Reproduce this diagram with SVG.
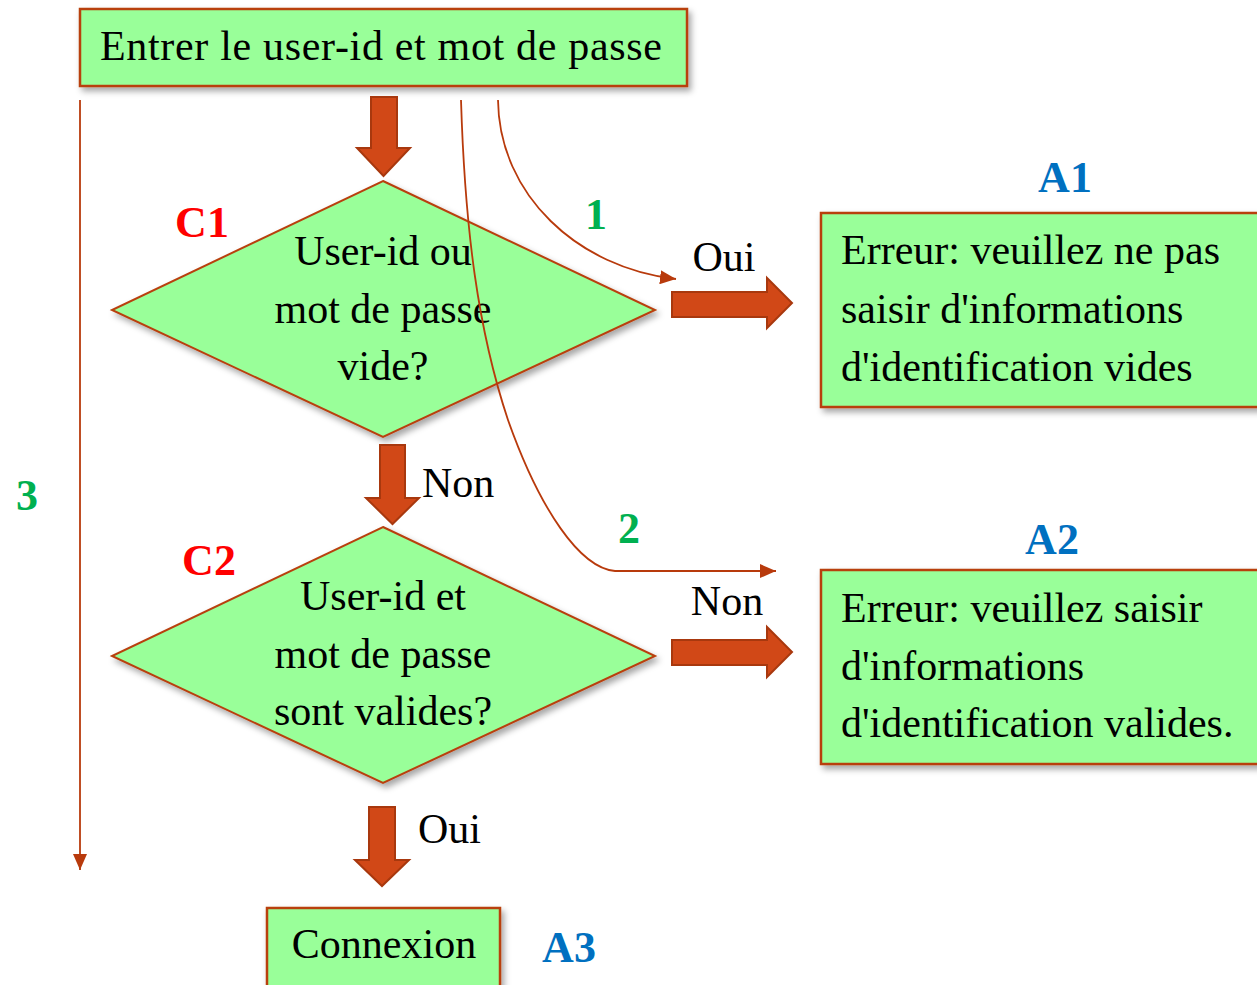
<svg xmlns="http://www.w3.org/2000/svg" width="1257" height="985" viewBox="0 0 1257 985">
<style>
.box{fill:#99FF99;stroke:#B8400F;stroke-width:2.5}
.dia{fill:#99FF99;stroke:#B8400F;stroke-width:2}
.txt{font-family:"Liberation Serif","Times New Roman",serif;font-size:42px;fill:#000}
.blk{fill:#D14817;stroke:#A8380E;stroke-width:2;stroke-linejoin:miter}
.con{fill:none;stroke:#B83A0C;stroke-width:1.8}
.num{font-family:"Liberation Serif","Times New Roman",serif;font-size:44px;font-weight:bold;fill:#00B050}
.cl{font-family:"Liberation Serif","Times New Roman",serif;font-size:44px;font-weight:bold;fill:#FF0000}
.al{font-family:"Liberation Serif","Times New Roman",serif;font-size:44px;font-weight:bold;fill:#0070C0}
</style>
<defs>
<filter id="sh" x="-10%" y="-10%" width="130%" height="130%">
<feDropShadow dx="3" dy="4" stdDeviation="3" flood-color="#000" flood-opacity="0.35"/>
</filter>
<marker id="ah" markerUnits="userSpaceOnUse" markerWidth="18" markerHeight="14" refX="16" refY="7" orient="auto">
<path d="M0,0 L16,7 L0,14 Z" fill="#B83A0C"/>
</marker>
</defs>
<rect width="1257" height="985" fill="#fff"/>

<g id="start">
<rect class="box" x="80" y="9" width="607" height="77" filter="url(#sh)"/>
<text class="txt" x="100" y="60" textLength="562">Entrer le user-id et mot de passe</text>
</g>

<g id="c1">
<polygon class="dia" points="383,181 655,310 383,437 112,310" filter="url(#sh)"/>
<text class="txt" x="383" y="265" text-anchor="middle">User-id ou</text>
<text class="txt" x="383" y="323" text-anchor="middle">mot de passe</text>
<text class="txt" x="383" y="380" text-anchor="middle">vide?</text>
<text class="cl" x="202" y="237" text-anchor="middle">C1</text>
</g>

<g id="c2">
<polygon class="dia" points="383,527 655,656 383,783 112,656" filter="url(#sh)"/>
<text class="txt" x="383" y="610" text-anchor="middle">User-id et</text>
<text class="txt" x="383" y="668" text-anchor="middle">mot de passe</text>
<text class="txt" x="383" y="725" text-anchor="middle">sont valides?</text>
<text class="cl" x="209" y="575" text-anchor="middle">C2</text>
</g>

<g id="a1">
<rect class="box" x="821" y="213" width="450" height="194" filter="url(#sh)"/>
<text class="txt" x="841" y="264">Erreur: veuillez ne pas</text>
<text class="txt" x="841" y="323">saisir d'informations</text>
<text class="txt" x="841" y="381">d'identification vides</text>
<text class="al" x="1065" y="192" text-anchor="middle">A1</text>
</g>

<g id="a2">
<rect class="box" x="821" y="570" width="450" height="194" filter="url(#sh)"/>
<text class="txt" x="841" y="622">Erreur: veuillez saisir</text>
<text class="txt" x="841" y="680">d'informations</text>
<text class="txt" x="841" y="737">d'identification valides.</text>
<text class="al" x="1052" y="554" text-anchor="middle">A2</text>
</g>

<g id="a3">
<rect class="box" x="267" y="908" width="233" height="100" filter="url(#sh)"/>
<text class="txt" x="384" y="958" text-anchor="middle">Connexion</text>
<text class="al" x="569" y="962" text-anchor="middle">A3</text>
</g>

<g id="connectors">
<path class="con" d="M80,100 L80,870" marker-end="url(#ah)"/>
<path class="con" d="M498,100 C499,195 578,268 676,279" marker-end="url(#ah)"/>
<path class="con" d="M461,100 C465,230 478,330 508,420 C540,510 580,568 615,571 L776,571" marker-end="url(#ah)"/>
<path class="blk" d="M371,97 L397,97 L397,148 L410,148 L383.5,176 L357,148 L371,148 Z"/>
<path class="blk" d="M380,445 L405,445 L405,498 L419,498 L392.5,524 L366,498 L380,498 Z"/>
<path class="blk" d="M369,807 L395,807 L395,860 L409,860 L382,886 L355,860 L369,860 Z"/>
<path class="blk" d="M672,292 L767,292 L767,278 L792,303 L767,328 L767,317 L672,317 Z"/>
<path class="blk" d="M672,640 L767,640 L767,627 L792,652 L767,677 L767,665 L672,665 Z"/>
<text class="num" x="27" y="510" text-anchor="middle">3</text>
<text class="num" x="596" y="229" text-anchor="middle">1</text>
<text class="num" x="629" y="543" text-anchor="middle">2</text>
<text class="txt" x="724" y="271" text-anchor="middle">Oui</text>
<text class="txt" x="727" y="615" text-anchor="middle">Non</text>
<text class="txt" x="422" y="497">Non</text>
<text class="txt" x="418" y="843">Oui</text>
</g>
</svg>
